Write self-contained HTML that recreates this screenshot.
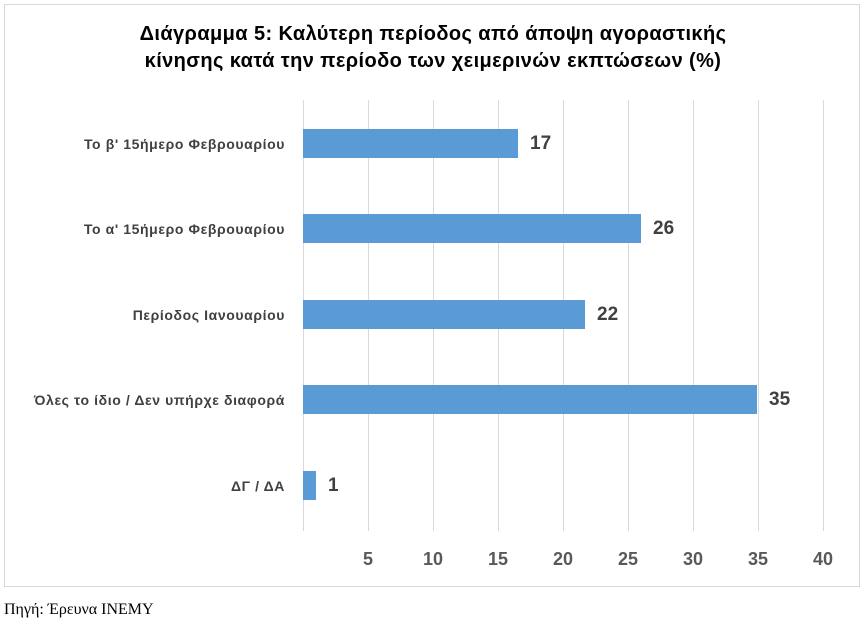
<!DOCTYPE html>
<html><head><meta charset="utf-8"><style>
body{margin:0;width:866px;height:632px;background:#fff;font-family:"Liberation Sans","DejaVu Sans",sans-serif;position:relative;overflow:hidden}
.box{position:absolute;left:4px;top:4px;width:856px;height:583px;border:1px solid #d9d9d9;box-sizing:border-box}
.t{position:absolute;left:0;width:866px;text-align:center;font-weight:bold;font-size:20px;letter-spacing:0.4px;color:#000}
.g{position:absolute;top:100px;height:431px;width:1px;background:#d9d9d9}
.bar{position:absolute;left:303px;height:29px;background:#5b9bd5}
.cat{position:absolute;right:581px;font-size:14px;letter-spacing:0.6px;color:#404040;font-weight:bold;white-space:nowrap;transform:translateY(-50%)}
.v{position:absolute;font-size:19px;font-weight:bold;color:#404040;transform:translateY(-50%)}
.tk{position:absolute;top:549px;font-size:18px;font-weight:bold;color:#595959;width:40px;margin-left:-20px;text-align:center}
.src{position:absolute;left:4px;top:601px;font-family:"Liberation Serif",serif;font-size:16px;color:#000}
</style></head><body>
<div class="box"></div>
<div class="t" style="top:23px">Διάγραμμα 5: Καλύτερη περίοδος από άποψη αγοραστικής</div>
<div class="t" style="top:50px">κίνησης κατά την περίοδο των χειμερινών εκπτώσεων (%)</div>
<div class="g" style="left:303px"></div><div class="g" style="left:368px"></div><div class="g" style="left:433px"></div><div class="g" style="left:498px"></div><div class="g" style="left:563px"></div><div class="g" style="left:628px"></div><div class="g" style="left:693px"></div><div class="g" style="left:758px"></div><div class="g" style="left:823px"></div>
<div class="bar" style="top:129px;width:215px"></div>
<div class="bar" style="top:214px;width:338px"></div>
<div class="bar" style="top:300px;width:282px"></div>
<div class="bar" style="top:385px;width:454px"></div>
<div class="bar" style="top:471px;width:13px"></div>
<div class="cat" style="top:144px">Το β' 15ήμερο Φεβρουαρίου</div>
<div class="cat" style="top:229px">Το α' 15ήμερο Φεβρουαρίου</div>
<div class="cat" style="top:315px">Περίοδος Ιανουαρίου</div>
<div class="cat" style="top:400px">Όλες το ίδιο / Δεν υπήρχε διαφορά</div>
<div class="cat" style="top:486px">ΔΓ / ΔΑ</div>
<div class="v" style="top:144px;left:530px">17</div>
<div class="v" style="top:229px;left:653px">26</div>
<div class="v" style="top:315px;left:597px">22</div>
<div class="v" style="top:400px;left:769px">35</div>
<div class="v" style="top:486px;left:328px">1</div>
<div class="tk" style="left:368px">5</div><div class="tk" style="left:433px">10</div><div class="tk" style="left:498px">15</div><div class="tk" style="left:563px">20</div><div class="tk" style="left:628px">25</div><div class="tk" style="left:693px">30</div><div class="tk" style="left:758px">35</div><div class="tk" style="left:823px">40</div>
<div class="src">Πηγή: Έρευνα ΙΝΕΜΥ</div>
</body></html>
